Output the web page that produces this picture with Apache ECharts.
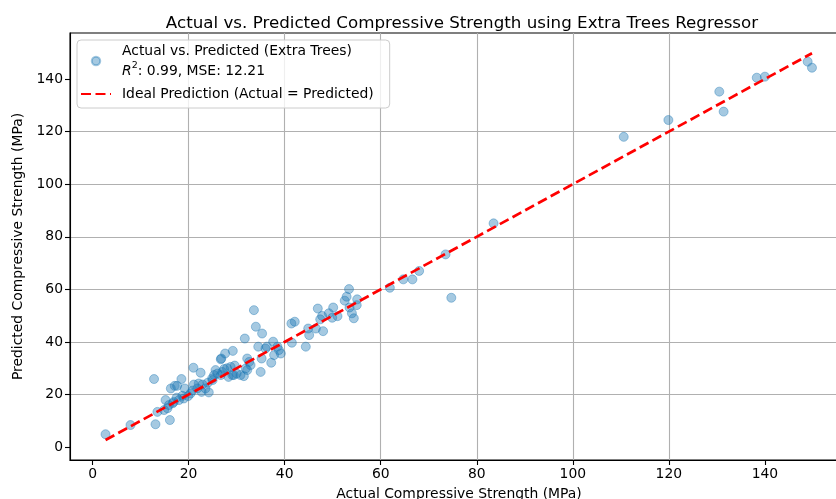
<!DOCTYPE html>
<html>
<head>
<meta charset="utf-8">
<script src="https://cdn.jsdelivr.net/npm/echarts@6/dist/echarts.min.js"></script>
<style>
  html, body { margin: 0; padding: 0; background: #fff; }
  #main { width: 836px; height: 499px; }
</style>
</head>
<body>
<div id="main"></div>
<script>
// actual vs predicted values (MPa)
var actual = [2.7, 7.9, 13.1, 12.8, 16.1, 13.5, 14.9, 15.2, 15.9, 16.9, 15.6, 16.7,
  16.3, 17.1, 17.6, 18.0, 18.5, 19.0, 19.2, 19.9, 20.4, 21.0, 21.1, 21.8, 22.1, 22.5,
  22.7, 22.9, 23.5, 24.2, 24.9, 25.3, 25.6, 26.0, 26.7, 26.7, 26.8, 27.4, 27.6, 28.3,
  28.75, 29.1, 29.2, 29.4, 30.0, 30.8, 31.5, 31.7, 31.9, 32.2, 32.2, 32.6, 32.9, 33.6,
  34.0, 34.5, 35.0, 35.2, 35.3, 36.0, 36.3, 37.2, 37.6, 37.8, 38.5, 38.8, 39.2, 41.4,
  42.1, 41.5, 44.4, 44.9, 45.1, 46.5, 46.9, 47.4, 47.8, 48.0, 49.2, 49.9, 50.1, 51.0,
  52.5, 52.9, 53.4, 53.5, 54.0, 54.4, 55.0, 55.1, 61.9, 64.7, 66.6, 68.0, 73.5, 74.7,
  83.5, 110.6, 119.9, 130.5, 131.4, 138.3, 140.0, 148.9, 149.8,
  27.0, 28.0, 29.6, 24.0, 25.0, 20.8, 18.7, 17.5];
var predicted = [4.9, 8.4, 8.7, 25.9, 10.3, 13.4, 14.1, 17.9, 16.0, 17.2, 14.8, 16.7,
  22.3, 23.3, 23.3, 17.9, 25.9, 18.5, 22.3, 19.4, 20.4, 30.2, 23.8, 22.3, 24.2, 28.3,
  21.0, 23.8, 22.3, 20.8, 26.1, 27.4, 29.3, 28.0, 27.4, 33.4, 33.7, 29.7, 35.6, 26.7,
  30.5, 27.4, 36.6, 27.4, 28.0, 27.4, 27.0, 41.3, 29.9, 33.7, 29.3, 32.4, 31.2, 52.1,
  45.8, 38.2, 28.6, 33.7, 43.2, 37.5, 38.2, 32.1, 40.1, 35.0, 38.2, 36.9, 35.6, 47.0,
  47.7, 39.7, 38.2, 45.1, 42.6, 45.1, 52.7, 48.6, 49.9, 44.1, 50.9, 49.2, 53.1, 49.8,
  55.7, 57.2, 60.1, 53.1, 50.9, 49.0, 54.0, 56.2, 60.6, 63.8, 63.8, 67.0, 73.3, 56.8,
  85.1, 118.0, 124.4, 135.2, 127.6, 140.5, 140.9, 146.6, 144.3,
  28.6, 30.0, 31.0, 24.5, 25.5, 21.5, 19.5, 18.8];
var tickValues = [0, 20, 40, 60, 80, 100, 120, 140];

var scatterName = 'Actual vs. Predicted (Extra Trees)';
var lineName = 'Ideal Prediction (Actual = Predicted)';
var scoreText = '{it|R}{sup|2}: 0.99, MSE: 12.21';

var points = [];
for (let i = 0; i < actual.length; i++) {
  points.push([actual[i], predicted[i]]);
}
let lo = Math.min.apply(null, actual);
let hi = Math.max.apply(null, actual);
let idealLine = [[lo, lo], [hi, hi]];

var font = 'DejaVu Sans';
var chart = echarts.init(document.getElementById('main'), null, {renderer: 'canvas'});

function axisCommon(name) {
  return {
    type: 'value',
    name: name,
    nameLocation: 'middle',
    nameTextStyle: {fontFamily: font, fontSize: 13.9, color: '#000'},
    axisLine: {show: true, onZero: false, lineStyle: {color: '#000', width: 1.1}},
    axisTick: {show: true, length: 5, customValues: tickValues, lineStyle: {color: '#000', width: 1.1}},
    axisLabel: {fontFamily: font, fontSize: 13.9, color: '#000', customValues: tickValues},
    splitNumber: 8,
    splitLine: {show: true, showMinLine: false, showMaxLine: false, lineStyle: {color: '#b0b0b0', width: 1.1}}
  };
}

var xAxis = axisCommon('Actual Compressive Strength (MPa)');
xAxis.min = -4.7;
xAxis.max = 157.3;
xAxis.nameGap = 27;
xAxis.axisLabel.margin = 7;

var yAxis = axisCommon('Predicted Compressive Strength (MPa)');
yAxis.min = -4.9;
yAxis.max = 157.5;
yAxis.nameGap = 44;
yAxis.axisLabel.margin = 7;

let options = {
  backgroundColor: '#fff',
  animation: false,
  title: {
    text: 'Actual vs. Predicted Compressive Strength using Extra Trees Regressor',
    left: 457,
    textAlign: 'center',
    top: 10,
    textStyle: {fontFamily: font, fontSize: 16.7, fontWeight: 'normal', color: '#000'}
  },
  grid: {
    left: 70,
    top: 33,
    width: 778,
    height: 427,
    outerBoundsMode: 'none',
    containLabel: false,
    show: true,
    borderColor: '#000',
    borderWidth: 1.1,
    backgroundColor: 'transparent'
  },
  legend: {
    orient: 'vertical',
    left: 77,
    top: 40,
    padding: [1, 16, 4, 3],
    itemGap: 3,
    itemWidth: 30,
    itemHeight: 8.5,
    backgroundColor: 'rgba(255,255,255,0.8)',
    borderColor: '#cccccc',
    borderWidth: 1,
    borderRadius: 4,
    data: [
      {name: scatterName},
      {name: lineName, itemStyle: {color: 'rgba(0,0,0,0)', borderColor: 'rgba(0,0,0,0)', borderWidth: 0}}
    ],
    formatter: function (name) {
      if (name === scatterName) {
        return name + '\n' + scoreText;
      }
      return name;
    },
    textStyle: {
      fontFamily: font,
      fontSize: 13.9,
      color: '#000',
      lineHeight: 20,
      padding: [0, 0, 0, 6],
      rich: {
        it: {fontFamily: font, fontSize: 13.9, fontStyle: 'italic', lineHeight: 20},
        sup: {fontFamily: font, fontSize: 9.5, verticalAlign: 'top', lineHeight: 20, padding: [0, 0, 6, 0]}
      }
    }
  },
  xAxis: xAxis,
  yAxis: yAxis,
  series: [
    {
      name: scatterName,
      type: 'scatter',
      symbol: 'circle',
      symbolSize: 9,
      data: points,
      itemStyle: {
        color: 'rgba(31,119,180,0.5)',
        borderColor: 'rgba(31,119,180,0.5)',
        borderWidth: 1
      },
      z: 2
    },
    {
      name: lineName,
      type: 'line',
      data: idealLine,
      showSymbol: false,
      symbol: 'none',
      lineStyle: {color: '#ff0000', width: 2.7, type: [10, 4.5]},
      z: 3
    }
  ]
};
chart.setOption(options);
</script>
</body>
</html>
